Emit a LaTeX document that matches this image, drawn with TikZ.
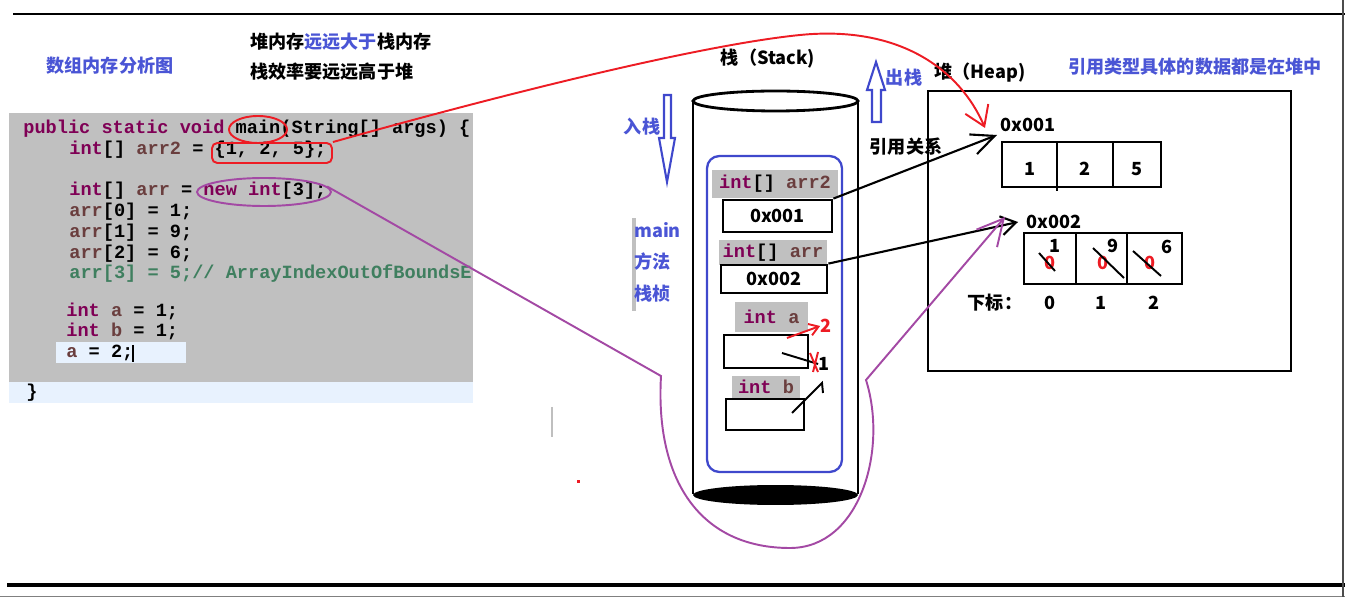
\documentclass[tikz,border=0pt]{standalone}
\usepackage{fontspec}
\setmainfont{Noto Sans CJK SC}
\setmonofont{Liberation Mono}
\usepackage{xcolor}
\usepackage{tikz}
\usetikzlibrary{arrows.meta,positioning,shapes.geometric}
\definecolor{kwcol}{HTML}{7F0055}
\definecolor{varcol}{HTML}{6A3E3E}
\definecolor{cmtcol}{HTML}{3F7F5F}
\definecolor{codebg}{HTML}{C0C0C0}
\definecolor{curline}{HTML}{E8F2FE}
\definecolor{paintred}{HTML}{ED1C24}
\definecolor{paintpurple}{HTML}{A349A4}
\definecolor{paintblue}{HTML}{3F48CC}
\definecolor{noteblue}{HTML}{4A55D5}
\newcommand{\jkw}[1]{\textcolor{kwcol}{#1}}
\newcommand{\jvar}[1]{\textcolor{varcol}{#1}}
\newcommand{\codefont}{\fontsize{10.6}{12}\selectfont\ttfamily\bfseries}
\newcommand{\cnfont}{\fontsize{10.3}{12}\selectfont\bfseries}

\begin{document}
\begin{tikzpicture}[x=0.02cm,y=-0.02cm,
  code/.style={anchor=base west,inner sep=0pt,font=\codefont},
  lbl/.style={inner sep=0pt,font=\cnfont},
  note/.style={lbl,text=noteblue},
  slot/.style={draw,line width=1.6pt,inner sep=0pt,font=\cnfont},
  vname/.style={fill=codebg,inner sep=0pt,font=\codefont},
  cell/.style={draw,line width=1.6pt,inner sep=0pt,outer sep=0pt,font=\cnfont,
               text height=12.8pt,text depth=0pt},
  ref/.style={-{Straight Barb[length=4.6mm,width=4.2mm]},line width=1.2pt},
  hollow/.style={draw=paintblue,line width=1.2pt,fill=white},
  stroke/.style={line width=1.1pt}
]
\useasboundingbox (0,0) rectangle (1345,597);

% frame lines
\draw[line width=1.4pt] (13,14) -- (1345,14);
\draw[line width=2pt] (7,585) -- (1345,585);
\draw[gray,line width=1pt] (0,596.5) -- (1345,596.5);
\draw[gray!60!black,line width=1.2pt] (1343,0) -- (1343,597);

% titles
\node[note] (title) at (110,66) {数组内存分析图};
\node[lbl,anchor=west] (cmp1) at (250,42) {堆内存\textcolor{noteblue}{远远大于}栈内存};
\node[lbl,anchor=west] (cmp2) at (250,72) {栈效率要远远高于堆};

% code panel
\fill[codebg] (9,113) rectangle (473,382);
\fill[curline] (9,382) rectangle (473,403);
\fill[curline] (56,342) rectangle (186,363);
\node[code] (c1) at (23,134) {\jkw{public static void} main(String[] args) \{};
\node[code] (c2) at (69,155) {\jkw{int}[] \jvar{arr2} = \{1, 2, 5\};};
\node[code] (c3) at (69,196) {\jkw{int}[] \jvar{arr} = \jkw{new} \jkw{int}[3];};
\node[code] (c4) at (69,217) {\jvar{arr}[0] = 1;};
\node[code] (c5) at (69,238) {\jvar{arr}[1] = 9;};
\node[code] (c6) at (69,259) {\jvar{arr}[2] = 6;};
\begin{scope}
  \clip (9,100) rectangle (472,400);
  \node[code,text=cmtcol] (c7) at (69,279) {arr[3] = 5;// ArrayIndexOutOfBoundsE};
\end{scope}
\node[code] (c8) at (66,317) {\jkw{int} \jvar{a} = 1;};
\node[code] (c9) at (66,337) {\jkw{int} \jvar{b} = 1;};
\node[code] (c10) at (66,358) {\jvar{a} = 2;};
\draw[line width=0.8pt] (133,345) -- (133,362);
\node[code] (c11) at (26,398) {\}};

% marks on the code
\node[ellipse,draw=paintred,line width=1.1pt,minimum width=1.16cm,minimum height=0.54cm,inner sep=0pt] (me) at (258,129.5) {};
\node[draw=paintred,line width=1.1pt,rounded corners=3pt,minimum width=2.4cm,minimum height=0.4cm,inner sep=0pt] (rr) at (272,153) {};
\node[ellipse,draw=paintpurple,line width=1.1pt,minimum width=2.68cm,minimum height=0.56cm,inner sep=0pt] (pe) at (264,192) {};

% stack
\node[lbl] (stk) at (768,59) {栈（Stack)};
\draw[line width=1.6pt] (693,101) -- (693,494) (858,101) -- (858,494);
\draw[line width=1.6pt,fill=white] (775.5,101) ellipse [x radius=1.65cm,y radius=0.2cm];
\fill (775.5,495) ellipse [x radius=1.65cm,y radius=0.2cm];
\node[draw=paintblue,line width=1.3pt,rounded corners=7pt,minimum width=2.7cm,minimum height=6.32cm] (frame) at (774.5,314) {};

\node[vname,minimum width=2.52cm,minimum height=0.56cm] (g1) at (775,184) {\jkw{int}[] \jvar{arr2}};
\node[slot,minimum width=2.18cm,minimum height=0.64cm] (b1) at (777.5,216) {0x001};
\node[vname,minimum width=2.16cm,minimum height=0.5cm] (g2) at (773,252.5) {\jkw{int}[] \jvar{arr}};
\node[slot,minimum width=2.12cm,minimum height=0.56cm] (b2) at (774,279) {0x002};
\node[vname,minimum width=1.46cm,minimum height=0.6cm] (g3) at (771.5,317) {\jkw{int} \jvar{a}};
\node[slot,minimum width=1.68cm,minimum height=0.66cm] (b3) at (766,351.5) {};
\node[vname,minimum width=1.36cm,minimum height=0.44cm] (g4) at (766,387) {\jkw{int} \jvar{b}};
\node[slot,minimum width=1.56cm,minimum height=0.62cm] (b4) at (765,414.5) {};

% value changes of a and b
\node[lbl,text=paintred] (va2) at (826,326) {2};
\node[lbl] (va1) at (824,364) {1};
\draw[paintred,stroke,-{Straight Barb[length=1.8mm,width=2.4mm]}] (787,338) -- (va2.west);
\draw[stroke] (782,353) -- (va1.west);
\draw[paintred,stroke] (810,353) -- (818,372) (818,352) -- (813,372);
\draw[stroke] (792,413) -- (822,383) -- (823,393);

% push / pop
\node[note] (push) at (642,127) {入栈};
\draw[hollow] (664,95) -- (671,95) -- (671,138) -- (675,138) -- (667,182) -- (659,138) -- (664,138) -- cycle;
\node[note] (pop) at (904,78) {出栈};
\draw[hollow] (872,122) -- (881,122) -- (881,90) -- (885,90) -- (876,62) -- (867,90) -- (872,90) -- cycle;
\fill[codebg] (632,218) rectangle (636,311);
\node[note,anchor=west] (fm1) at (634,230) {main};
\node[note,anchor=west] (fm2) at (634,262) {方法};
\node[note,anchor=west] (fm3) at (634,294) {栈桢};
\node[lbl] (rel) at (906,147) {引用关系};

% heap
\node[lbl] (hp) at (980,73) {堆（Heap)};
\node[note] (inheap) at (1195,67) {引用类型具体的数据都是在堆中};
\node[draw,line width=1.6pt,minimum width=7.26cm,minimum height=5.6cm] (heap) at (1109.5,231) {};

\node[lbl] (ha) at (1028,125) {0x001};
\node[cell,minimum width=1.1cm,minimum height=0.9cm] (a1) at (1029.5,164.5) {1};
\node[cell,minimum width=1.12cm,minimum height=0.9cm,right=0pt of a1] (a2) {2};
\node[cell,minimum width=0.96cm,minimum height=0.9cm,right=0pt of a2] (a3) {5};
\draw[line width=1.2pt] (a1.south east) -- ++(0,4);

\node[lbl] (hb) at (1054,222) {0x002};
\node[cell,minimum width=1.04cm,minimum height=1.02cm] (d1) at (1050,258.5) {};
\node[cell,minimum width=1.02cm,minimum height=1.02cm,right=0pt of d1] (d2) {};
\node[cell,minimum width=1.1cm,minimum height=1.02cm,right=0pt of d2] (d3) {};
\node[lbl,text=paintred] (z1) at (1050,263) {0};
\node[lbl,text=paintred] (z2) at (1103,263) {0};
\node[lbl,text=paintred] (z3) at (1150,263) {0};
\node[lbl] (n1) at (1055,246) {1};
\node[lbl] (n2) at (1113,246) {9};
\node[lbl] (n3) at (1167,247) {6};
\draw[stroke] (1039,253) -- (1055,271);
\draw[stroke] (1093,248) -- (1124,278);
\draw[stroke] (1133,251) -- (1161,276);
\node[lbl] (idx) at (995,303) {下标：};
\node[lbl] (i0) at (d1 |- idx) {0};
\node[lbl] (i1) at (d2 |- idx) {1};
\node[lbl] (i2) at (d3 |- idx) {2};

% references
\coordinate (tipA) at (985,128);
\coordinate (tipAb) at (997,135);
\coordinate (tipB) at (1018,222);
\coordinate (tipBp) at (1005,217);
\draw[ref] (b1.north east) -- (tipAb);
\draw[ref,-{Straight Barb[length=3mm,width=3.8mm]}] (b2.north east) -- (tipB);
\draw[paintred,line width=1.1pt,-{Straight Barb[length=3.8mm,width=5mm]}]
  (rr.north east) .. controls (500,95) and (700,45) .. (800,35)
  .. controls (900,25) and (960,70) .. (tipA);
\draw[paintpurple,line width=1.1pt,-{Straight Barb[length=5.2mm,width=5.4mm]}]
  (pe.5) -- (661,376) .. controls (655,480) and (700,548) .. (790,548)
  .. controls (860,548) and (888,450) .. (866,380) -- (tipBp);

% stray marks
\draw[gray!50,line width=0.8pt] (552,407) -- (552,437);
\fill[paintred] (577,480) rectangle (580,483);
\end{tikzpicture}
\end{document}
